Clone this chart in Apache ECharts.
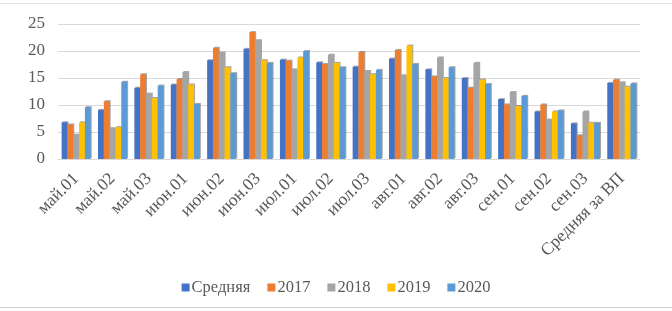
<!DOCTYPE html>
<html>
<head>
<meta charset="utf-8">
<script src="https://cdn.jsdelivr.net/npm/echarts@6/dist/echarts.min.js"></script>
<style>
  html, body { margin: 0; padding: 0; background: #fff; }
  #chart { width: 672px; height: 311px; }
</style>
</head>
<body>
<div id="chart"></div>
<script>
var categories = ["май.01", "май.02", "май.03", "июн.01", "июн.02", "июн.03", "июл.01", "июл.02",
  "июл.03", "авг.01", "авг.02", "авг.03", "сен.01", "сен.02", "сен.03", "Средняя за ВП"];
var seriesNames = ["Средняя", "2017", "2018", "2019", "2020"];
var avgData = [6.8, 9.1, 13.2, 13.8, 18.3, 20.4, 18.4, 17.9, 17.1, 18.6, 16.6, 15.0, 11.1, 8.8, 6.6, 14.1];
var y2017 = [6.4, 10.7, 15.7, 14.8, 20.6, 23.5, 18.2, 17.6, 19.8, 20.2, 15.3, 13.2, 10.1, 10.1, 4.4, 14.7];
var y2018 = [4.5, 5.7, 12.1, 16.1, 19.7, 22.0, 16.6, 19.3, 16.3, 15.5, 18.8, 17.8, 12.4, 7.3, 8.8, 14.2];
var y2019 = [6.8, 5.9, 11.3, 13.8, 17.0, 18.3, 18.8, 17.8, 15.7, 21.0, 15.0, 14.7, 9.8, 8.8, 6.7, 13.4];
var y2020 = [9.6, 14.3, 13.6, 10.2, 15.9, 17.8, 20.0, 17.0, 16.5, 17.6, 17.0, 13.9, 11.7, 9.0, 6.7, 14.0];
var yTicks = [0, 5, 10, 15, 20, 25];

var colors = ["#4472C4", "#ED7D31", "#A5A5A5", "#FFC000", "#5B9BD5"];
var values = [avgData, y2017, y2018, y2019, y2020];
var font = "'Liberation Serif', 'Times New Roman', serif";

var chart = echarts.init(document.getElementById("chart"));

var option = {
  animation: false,
  color: colors,
  textStyle: { fontFamily: font },
  grid: { left: 58, right: 32, top: 24, bottom: 152 },
  legend: {
    bottom: 10,
    left: "center",
    itemWidth: 8,
    itemHeight: 8,
    itemGap: 17,
    icon: "rect",
    textStyle: { fontFamily: font, fontSize: 16.5, color: "#595959", padding: [0, 0, 0, -3] },
    data: seriesNames
  },
  xAxis: {
    type: "category",
    data: categories,
    axisLine: { lineStyle: { color: "#d9d9d9" } },
    axisTick: { show: false },
    axisLabel: {
      interval: 0,
      rotate: 45,
      margin: 17,
      fontFamily: font,
      fontSize: 17.5,
      color: "#595959"
    }
  },
  yAxis: {
    type: "value",
    min: 0,
    max: yTicks[yTicks.length - 1],
    interval: 5,
    axisLine: { show: false },
    axisTick: { show: false },
    splitLine: { lineStyle: { color: "#d9d9d9", width: 1 } },
    axisLabel: { fontFamily: font, fontSize: 17, color: "#595959", margin: 13 }
  },
  graphic: [
    { type: "line", shape: { x1: 0, y1: 3.5, x2: 672, y2: 3.5 }, style: { stroke: "#e3e3e3", lineWidth: 1 } },
    { type: "line", shape: { x1: 0, y1: 307.5, x2: 672, y2: 307.5 }, style: { stroke: "#d0d0d0", lineWidth: 1 } }
  ],
  series: seriesNames.map(function (name, i) {
    return {
      name: name,
      type: "bar",
      data: values[i],
      barGap: "0%",
      barCategoryGap: "20%",
      itemStyle: {
        shadowColor: "rgba(0,0,0,0.35)",
        shadowOffsetX: 1,
        shadowOffsetY: -1,
        shadowBlur: 0
      }
    };
  })
};

chart.setOption(option);
</script>
</body>
</html>
